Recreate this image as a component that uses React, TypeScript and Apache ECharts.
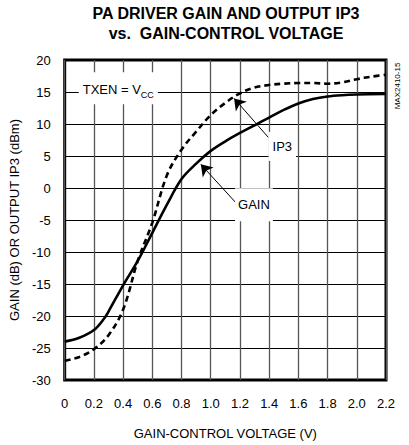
import React, { useEffect, useRef } from "react";
import * as echarts from "echarts";

// Gain-control voltage (V) and gain (dB)
const gainX = [0, 0.1, 0.2, 0.27, 0.3, 0.4, 0.5, 0.6, 0.7, 0.8, 0.9, 1.0, 1.1, 1.2, 1.3, 1.4, 1.5, 1.6, 1.7, 1.8, 1.9, 2.0, 2.2];
const gainY = [-24, -23.4, -22.2, -20.4, -19.3, -15.2, -11.4, -7.0, -2.6, 1.4, 3.8, 5.8, 7.3, 8.6, 9.8, 11.0, 12.2, 13.2, 13.9, 14.3, 14.5, 14.6, 14.7];

// Gain-control voltage (V) and output IP3 (dBm)
const ip3X = [0, 0.1, 0.2, 0.3, 0.4, 0.5, 0.6, 0.7, 0.8, 0.9, 1.0, 1.1, 1.2, 1.3, 1.4, 1.5, 1.6, 1.7, 1.8, 1.9, 2.0, 2.1, 2.2];
const ip3Y = [-27, -26.4, -25.2, -23, -19, -11.4, -5.4, 2.0, 6.0, 8.8, 11.4, 13.3, 14.8, 15.7, 16.1, 16.3, 16.4, 16.4, 16.3, 16.5, 17.0, 17.4, 17.7];

const xTicks = ["0", "0.2", "0.4", "0.6", "0.8", "1.0", "1.2", "1.4", "1.6", "1.8", "2.0", "2.2"];
const yTicks = ["-30", "-25", "-20", "-15", "-10", "-5", "0", "5", "10", "15", "20"];

const titleLines = ["PA DRIVER GAIN AND OUTPUT IP3", "vs.  GAIN-CONTROL VOLTAGE"];
const xName = "GAIN-CONTROL VOLTAGE (V)";
const yName = "GAIN (dB) OR OUTPUT IP3 (dBm)";
const figId = "MAX2410-15";

// annotation anchors (data coords)
const txenAt = [0.367, 15.57];
const ip3LabelAt = [1.49, 6.5];
const gainLabelAt = [1.296, -2.6];
const ip3Arrow = [[1.395, 7.89], [1.16, 14.0]];
const gainArrow = [[1.17, -2.25], [0.932, 3.7]];

const FONT = "Liberation Sans, Arial, Helvetica, sans-serif";

export default function App() {
  const ref = useRef<HTMLDivElement>(null);
  useEffect(() => {
    if (!ref.current) return;
    const chart = echarts.init(ref.current, undefined, { renderer: "svg" });
    const xMin = 0, xMax = 2.2, yMin = -30, yMax = 20;
    chart.setOption({
      animation: false,
      backgroundColor: "#fff",
      textStyle: { fontFamily: FONT },
      grid: {
        left: 63,
        right: 23,
        top: 60,
        bottom: 63,
        show: true,
        borderColor: "#000",
        borderWidth: 3,
        backgroundColor: "transparent",
      },
      xAxis: {
        type: "value",
        min: xMin,
        max: xMax,
        interval: 0.2,
        name: xName,
        nameLocation: "middle",
        nameGap: 47,
        nameTextStyle: { fontSize: 13, color: "#000", fontFamily: FONT },
        axisLine: { show: false },
        axisTick: { show: false },
        axisLabel: {
          fontSize: 13,
          color: "#000",
          margin: 17,
          fontFamily: FONT,
          formatter: (v: number) => xTicks[Math.round(v / 0.2)] ?? "",
        },
        splitLine: { show: true, lineStyle: { color: "#555", width: 1.3 } },
      },
      yAxis: {
        type: "value",
        min: yMin,
        max: yMax,
        interval: 5,
        name: yName,
        nameLocation: "middle",
        nameGap: 32,
        nameTextStyle: { fontSize: 13, color: "#000", fontFamily: FONT },
        axisLine: { show: false },
        axisTick: { show: false },
        axisLabel: {
          fontSize: 13,
          color: "#000",
          margin: 14,
          fontFamily: FONT,
          formatter: (v: number) => yTicks[Math.round((v - yMin) / 5)] ?? "",
        },
        splitLine: { show: true, lineStyle: { color: "#000", width: 1 } },
      },
      graphic: [
        {
          type: "text",
          x: 226,
          y: 13,
          style: { text: titleLines[0], align: "center", verticalAlign: "middle", font: `bold 16px ${FONT}`, fill: "#000" },
        },
        {
          type: "text",
          x: 226,
          y: 33,
          style: { text: titleLines[1], align: "center", verticalAlign: "middle", font: `bold 16px ${FONT}`, fill: "#000" },
        },
        {
          type: "text",
          x: 397,
          y: 86,
          rotation: Math.PI / 2,
          style: { text: figId, align: "center", verticalAlign: "middle", font: `8px ${FONT}`, fill: "#000" },
        },
      ],
      series: [
        {
          name: "IP3",
          type: "line",
          data: ip3X.map((x, i) => [x, ip3Y[i]]),
          showSymbol: false,
          smooth: 0.35,
          lineStyle: { color: "#000", width: 2.6, type: [6, 4] },
          z: 3,
        },
        {
          name: "GAIN",
          type: "line",
          data: gainX.map((x, i) => [x, gainY[i]]),
          showSymbol: false,
          smooth: 0.35,
          lineStyle: { color: "#000", width: 2.6 },
          z: 3,
          markLine: {
            silent: true,
            symbol: ["none", "arrow"],
            symbolSize: 11,
            lineStyle: { color: "#000", width: 1, type: "solid" },
            label: { show: false },
            data: [
              [{ coord: ip3Arrow[0] }, { coord: ip3Arrow[1] }],
              [{ coord: gainArrow[0] }, { coord: gainArrow[1] }],
            ],
          },
          markPoint: {
            silent: true,
            symbol: "rect",
            symbolSize: 0,
            data: [
              {
                coord: txenAt,
                label: {
                  show: true,
                  position: "inside",
                  backgroundColor: "#fff",
                  padding: [8, 4, 8, 4],
                  formatter: "{a|TXEN = V}{b|CC}",
                  rich: {
                    a: { fontSize: 13, color: "#000", fontFamily: FONT, lineHeight: 16, verticalAlign: "bottom" },
                    b: { fontSize: 9, color: "#000", fontFamily: FONT, lineHeight: 9, verticalAlign: "bottom", padding: [0, 0, -3, 0] },
                  },
                },
              },
              {
                coord: ip3LabelAt,
                label: {
                  show: true,
                  position: "inside",
                  backgroundColor: "#fff",
                  padding: [8, 4, 8, 4],
                  formatter: "IP3",
                  fontSize: 13,
                  color: "#000",
                  fontFamily: FONT,
                },
              },
              {
                coord: gainLabelAt,
                label: {
                  show: true,
                  position: "inside",
                  backgroundColor: "#fff",
                  padding: [10, 3, 10, 3],
                  formatter: "GAIN",
                  fontSize: 13,
                  color: "#000",
                  fontFamily: FONT,
                },
              },
            ],
          },
        },
      ],
    });
    return () => chart.dispose();
  }, []);
  return <div ref={ref} style={{ position: "absolute", left: 0, top: 0, width: 409, height: 445 }} />;
}
